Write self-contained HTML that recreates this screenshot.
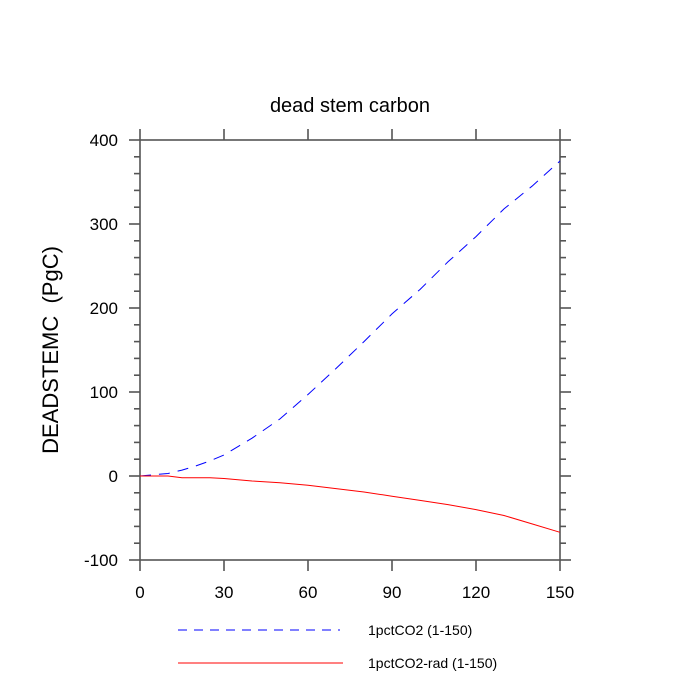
<!DOCTYPE html>
<html><head><meta charset="utf-8"><style>body{margin:0;background:#fff}svg{display:block}</style></head>
<body>
<svg id="c" width="700" height="700" xmlns="http://www.w3.org/2000/svg" font-family="Liberation Sans, sans-serif">
<text x="350" y="112" text-anchor="middle" font-size="20">dead stem carbon</text>
<text transform="translate(58,350) rotate(-90)" text-anchor="middle" font-size="22" style="white-space:pre">DEADSTEMC  (PgC)</text>
<g id="axes"></g>
<g id="series"></g>
<g>
<line x1="178" y1="630" x2="340" y2="630" stroke="#00f" stroke-dasharray="9,7"/>
<text x="368" y="635" font-size="14">1pctCO2 (1-150)</text>
<line x1="178" y1="663" x2="343" y2="663" stroke="#f00"/>
<text x="368" y="668" font-size="14">1pctCO2-rad (1-150)</text>
</g>
</svg>
<script>
const xTicks=[0,30,60,90,120,150];
const yTicks=[-100,0,100,200,300,400];
const years=[0,10,15,20,25,30,40,50,60,70,80,90,100,110,120,130,140,150];
const co2=[0,3,7,12,18,25,45,68,97,128,160,193,222,255,285,318,345,375];
const co2rad=[0,0,-2,-2,-2,-3,-6,-8,-11,-15,-19,-24,-29,-34,-40,-47,-57,-67];
const X0=140,X1=560,Y0=560,Y1=140;
const sx=v=>X0+(v-0)/150*(X1-X0);
const sy=v=>Y0-(v+100)/500*(Y0-Y1);
const NS='http://www.w3.org/2000/svg';
const ax=document.getElementById('axes'),se=document.getElementById('series');
function mk(tag,a,p){const e=document.createElementNS(NS,tag);for(const k in a)e.setAttribute(k,a[k]);p.appendChild(e);return e;}
const tc='#555',tw=1.6;
const fr=mk('rect',{x:X0,y:Y1,width:X1-X0,height:Y0-Y1,fill:'none',stroke:tc,'stroke-width':tw},ax);


xTicks.forEach(v=>{const x=sx(v);
 mk('line',{x1:x,y1:Y0,x2:x,y2:Y0+11,stroke:tc,'stroke-width':tw},ax);
 mk('line',{x1:x,y1:Y1-11,x2:x,y2:Y1,stroke:tc,'stroke-width':tw},ax);
 const t=mk('text',{x:x,y:Y0+38,'text-anchor':'middle','font-size':17},ax);t.textContent=v;
 
 });
for(let v=-100;v<=400;v+=20){const y=sy(v);const maj=v%100===0;const L=maj?11:6;
 mk('line',{x1:X0-L,y1:y,x2:X0,y2:y,stroke:tc,'stroke-width':tw},ax);
 mk('line',{x1:X1,y1:y,x2:X1+L,y2:y,stroke:tc,'stroke-width':tw},ax);}
yTicks.forEach(v=>{const t=mk('text',{x:X0-22,y:sy(v)+6,'text-anchor':'end','font-size':17},ax);t.textContent=v;
 
 });
function line(vals,attrs,name){const d=vals.map((v,i)=>(i?'L':'M')+sx(years[i]).toFixed(1)+','+sy(v).toFixed(1)).join('');
 const p=mk('path',Object.assign({d:d,fill:'none'},attrs),se);
 
 }
line(co2,{stroke:'#00f','stroke-dasharray':'11,8'},'series-1pctco2');
line(co2rad,{stroke:'#f00'},'series-1pctco2-rad');
</script>
</body></html>
